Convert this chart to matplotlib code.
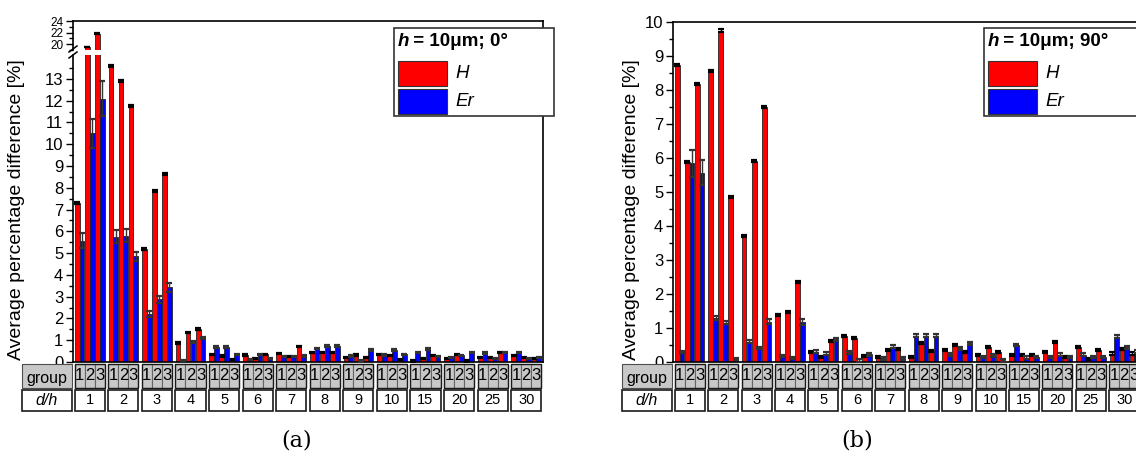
import numpy as np
import matplotlib.pyplot as plt
from matplotlib.patches import Rectangle
from matplotlib.lines import Line2D
import matplotlib.transforms as mtransforms

plt.rcParams['font.family'] = ['Liberation Sans', 'DejaVu Sans']

W, Hpx = 1136, 471

dh_labels = ['1', '2', '3', '4', '5', '6', '7', '8', '9', '10', '15', '20', '25', '30']
groups = ['1', '2', '3']

# panel (a): h = 10um, 0 deg  (3 groups per d/h)
H_a = [7.3, 19.5, 21.8, 13.6, 12.92, 11.75, 5.2, 7.86, 8.62, 0.87, 1.35, 1.5,
       0.33, 0.27, 0.1, 0.32, 0.15, 0.35, 0.38, 0.25, 0.72, 0.43, 0.43, 0.43,
       0.2, 0.32, 0.2, 0.35, 0.3, 0.12, 0.05, 0.15, 0.3, 0.15, 0.35, 0.05,
       0.22, 0.2, 0.45, 0.3, 0.2, 0.15]
Er_a = [5.57, 10.5, 12.1, 5.75, 5.8, 4.85, 2.2, 2.88, 3.43, 0.08, 0.9, 1.1,
        0.69, 0.69, 0.35, 0.1, 0.35, 0.15, 0.25, 0.25, 0.28, 0.63, 0.74, 0.74,
        0.28, 0.05, 0.55, 0.32, 0.55, 0.35, 0.45, 0.6, 0.25, 0.22, 0.3, 0.45,
        0.42, 0.15, 0.45, 0.45, 0.15, 0.2]
H_a_err = [0.05, 0.05, 0.06, 0.05, 0.05, 0.05, 0.05, 0.05, 0.05, 0.04, 0.04, 0.04] + [0.03] * 30
Er_a_err = [0.35, 0.65, 0.8, 0.3, 0.3, 0.2, 0.15, 0.15, 0.2, 0.03, 0.05, 0.06] + [0.03] * 30

# panel (b): h = 10um, 90 deg
H_b = [8.73, 5.87, 8.18, 8.56, 9.75, 4.86, 3.7, 5.91, 7.5, 1.38, 1.46, 2.36,
       0.3, 0.14, 0.62, 0.76, 0.72, 0.19, 0.16, 0.35, 0.37, 0.16, 0.57, 0.32,
       0.36, 0.49, 0.3, 0.2, 0.45, 0.3, 0.22, 0.22, 0.22, 0.3, 0.58, 0.15,
       0.43, 0.1, 0.35, 0.25, 0.38, 0.25]
Er_b = [0.3, 5.84, 5.57, 1.3, 1.16, 0.09, 0.6, 0.41, 1.19, 0.19, 0.13, 1.18,
        0.3, 0.24, 0.67, 0.29, 0.04, 0.23, 0.11, 0.45, 0.11, 0.77, 0.77, 0.77,
        0.23, 0.4, 0.55, 0.15, 0.2, 0.05, 0.5, 0.13, 0.15, 0.15, 0.22, 0.15,
        0.22, 0.15, 0.15, 0.75, 0.43, 0.3]
H_b_err = [0.03] * 42
Er_b_err = [0.03, 0.4, 0.37, 0.06, 0.05, 0.02, 0.04, 0.03, 0.08, 0.03, 0.03, 0.08] + [0.04] * 30


def fx(px):
    return px / W


def fy(py):
    return 1 - py / Hpx


fig = plt.figure(figsize=(W / 100, Hpx / 100), dpi=100)


def draw_bars(ax, H, Er, H_err, Er_err):
    n = len(dh_labels)
    xc = np.array([i + (j - 1) * 0.3 for i in range(n) for j in range(3)])
    ax.bar(xc - 0.072, H, width=0.14, color='#ff0000', edgecolor='0.15', lw=0.6, zorder=2)
    ax.bar(xc + 0.072, Er, width=0.14, color='#0000ff', edgecolor='0.15', lw=0.6, zorder=2)
    ax.errorbar(xc - 0.072, H, yerr=H_err, fmt='none', ecolor='black',
                elinewidth=1, capsize=2.5, capthick=1.6, zorder=3)
    ax.errorbar(xc + 0.072, Er, yerr=Er_err, fmt='none', ecolor='0.2',
                elinewidth=1, capsize=2.5, capthick=1.6, zorder=3)
    ax.set_xlim(-0.5, n - 0.5)
    ax.set_xticks([])
    ax.tick_params(axis='y', direction='out', length=5, width=1, labelsize=12, pad=2)
    ax.tick_params(axis='y', which='minor', direction='out', length=3, width=1)
    for s in ax.spines.values():
        s.set_linewidth(1.2)


def draw_table(ax, left_px):
    tr = mtransforms.blended_transform_factory(ax.transData, fig.transFigure)
    y1a, y1b = fy(388), fy(364)
    y2a, y2b = fy(411), fy(390)
    for i, lab in enumerate(dh_labels):
        for j, g in enumerate(groups):
            x0 = i + (j - 1) * 0.3 - 0.15
            ax.add_patch(Rectangle((x0, y1a), 0.3, y1b - y1a, transform=tr, clip_on=False,
                                   facecolor='#c8c8c8', edgecolor='0.4', lw=0.8))
            ax.text(x0 + 0.15, (y1a + y1b) / 2, g, transform=tr, ha='center', va='center',
                    fontsize=12, clip_on=False)
        ax.add_patch(Rectangle((i - 0.45, y1a), 0.9, y1b - y1a, transform=tr, clip_on=False,
                               facecolor='none', edgecolor='0.1', lw=1.0))
        ax.add_patch(Rectangle((i - 0.45, y2a), 0.9, y2b - y2a, transform=tr, clip_on=False,
                               facecolor='white', edgecolor='0.1', lw=1.2))
        ax.text(i, (y2a + y2b) / 2, lab, transform=tr, ha='center', va='center',
                fontsize=10.5, clip_on=False)
    # row labels
    fig.patches.append(Rectangle((fx(left_px - 51), y1a), fx(50), y1b - y1a,
                                 transform=fig.transFigure, facecolor='#c8c8c8',
                                 edgecolor='0.3', lw=0.8))
    fig.text(fx(left_px - 26), fy(378.5), 'group', ha='center', va='center', fontsize=11.5)
    fig.patches.append(Rectangle((fx(left_px - 51), y2a), fx(50), y2b - y2a,
                                 transform=fig.transFigure, facecolor='white',
                                 edgecolor='0.1', lw=1.2))
    fig.text(fx(left_px - 26), (y2a + y2b) / 2, 'd/h', ha='center', va='center',
             fontsize=11.5, style='italic')


def draw_legend(x0, angle):
    fig.patches.append(Rectangle((fx(x0), fy(116)), fx(160), fy(28) - fy(116),
                                 transform=fig.transFigure, facecolor='white',
                                 edgecolor='0.2', lw=1.2, zorder=5))
    fig.text(fx(x0 + 4), fy(42), 'h', fontsize=13.5, weight='bold', style='italic',
             va='center', zorder=6)
    fig.text(fx(x0 + 14), fy(42), ' = 10\u03bcm; ' + angle + '\u00b0', fontsize=13.5,
             weight='bold', va='center', zorder=6)
    for k, (c, lab) in enumerate([('#ff0000', 'H'), ('#0000ff', 'Er')]):
        top = 61 + k * 28
        fig.patches.append(Rectangle((fx(x0 + 4), fy(top + 25)), fx(49), fy(top) - fy(top + 25),
                                     transform=fig.transFigure, facecolor=c,
                                     edgecolor='0.2', lw=0.8, zorder=6))
        fig.text(fx(x0 + 61), fy(top + 13), lab, fontsize=13.5, style='italic',
                 va='center', zorder=6)


# ---- panel (a): broken axis
ax_lo = fig.add_axes([fx(73), fy(362), fx(543 - 73), fy(55) - fy(362)])
ax_hi = fig.add_axes([fx(73), fy(50), fx(543 - 73), fy(21) - fy(50)])
for ax in (ax_lo, ax_hi):
    draw_bars(ax, H_a, Er_a, H_a_err, Er_a_err)
ax_lo.set_ylim(0, 14.1)
ax_lo.set_yticks(range(0, 14))
ax_lo.set_yticks(np.arange(0.5, 14, 1), minor=True)
ax_lo.spines['top'].set_visible(False)
ax_hi.set_ylim(19, 24)
ax_hi.set_yticks([20, 22, 24])
ax_hi.set_yticks([19, 21, 23], minor=True)
ax_hi.tick_params(axis='y', labelsize=8.5)
ax_hi.spines['bottom'].set_visible(False)
# break marks
for xp in (73, 543):
    for yp in (49, 55):
        fig.lines.append(Line2D([fx(xp - 4), fx(xp + 4)], [fy(yp + 3), fy(yp - 3)],
                                transform=fig.transFigure, color='black', lw=1.1))
draw_table(ax_lo, 73)
fig.text(fx(17), fy(210), 'Average percentage difference [%]', rotation=90,
         ha='center', va='center', fontsize=14)
draw_legend(394, '0')
fig.text(fx(297), fy(440), '(a)', ha='center', va='center', fontsize=16, family='DejaVu Serif')

# ---- panel (b)
ax_b = fig.add_axes([fx(673), fy(362), fx(1141 - 673), fy(22) - fy(362)])
draw_bars(ax_b, H_b, Er_b, H_b_err, Er_b_err)
ax_b.set_ylim(0, 10)
ax_b.set_yticks(range(0, 11))
ax_b.set_yticks(np.arange(0.5, 10, 1), minor=True)
draw_table(ax_b, 673)
fig.text(fx(631), fy(210), 'Average percentage difference [%]', rotation=90,
         ha='center', va='center', fontsize=14)
draw_legend(984, '90')
fig.text(fx(857), fy(440), '(b)', ha='center', va='center', fontsize=16, family='DejaVu Serif')

fig.savefig('out.png', dpi=100)
